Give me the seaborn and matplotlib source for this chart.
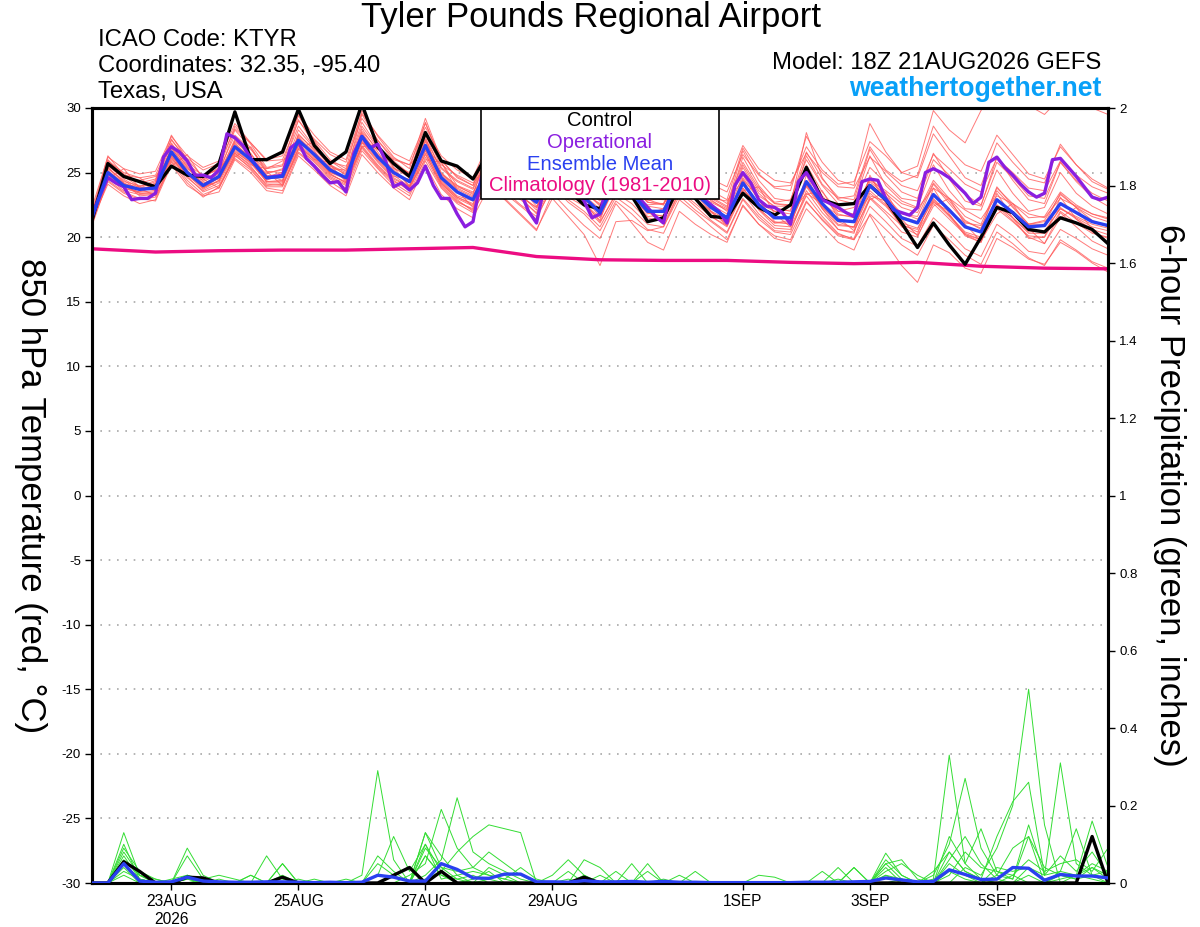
import numpy as np
import pandas as pd
import matplotlib
matplotlib.use("Agg")
import matplotlib.pyplot as plt
from matplotlib.patches import Rectangle
import seaborn as sns

# forecast hours from 21AUG2026 18Z, 6-hourly (GEFS) and 3-hourly (operational)
hours = np.arange(65) * 6
hours_op = np.arange(129) * 3
hours_clim = np.arange(17) * 24

control_temp = [
    21.3, 25.7, 24.7, 24.3, 23.9, 25.5, 24.8, 24.7, 25.7, 29.7, 26.0, 26.0, 26.6,
    29.9, 27.1, 25.7, 26.6, 30.3, 27.0, 25.7, 24.7, 28.1, 25.9, 25.5, 24.5, 26.6,
    24.5, 23.6, 23.3, 25.0, 23.6, 22.5, 22.2, 24.5, 23.2, 21.2, 21.5, 24.0, 23.0,
    21.6, 21.5, 23.4, 22.3, 21.7, 22.5, 25.4, 22.9, 22.5, 22.6, 24.0, 22.9, 21.1,
    19.2, 21.1, 19.4, 17.9, 20.0, 22.3, 21.9, 20.6, 20.4, 21.5, 21.1, 20.6, 19.5,
]

mean_temp = [
    21.5, 25.0, 24.0, 23.7, 23.8, 26.6, 25.0, 24.0, 24.7, 27.0, 26.0, 24.6, 24.7,
    27.5, 26.4, 25.2, 24.6, 27.8, 26.2, 25.0, 24.3, 27.1, 24.6, 23.5, 22.9, 25.5,
    24.5, 23.6, 22.7, 25.0, 23.8, 23.1, 21.9, 24.3, 23.4, 22.0, 22.0, 24.4, 23.4,
    22.3, 21.5, 24.2, 22.5, 21.5, 21.5, 24.3, 22.6, 21.3, 21.2, 24.0, 22.9, 21.5,
    21.1, 23.3, 22.1, 20.8, 20.4, 22.9, 21.9, 20.8, 20.9, 22.6, 21.9, 21.2, 20.9,
]

operational_temp = [
    21.7, 23.2, 24.6, 24.2, 23.9, 22.9, 23.0, 23.0, 23.4, 26.2, 27.0, 26.6, 25.9,
    24.8, 24.8, 24.6, 25.2, 28.0, 27.7, 27.1, 26.1, 25.3, 24.6, 24.7, 24.8, 26.9,
    27.4, 26.1, 25.5, 24.8, 24.2, 24.3, 23.5, 26.5, 27.8, 26.9, 27.2, 25.9, 23.9,
    24.2, 23.65, 24.2, 25.5, 24.0, 23.0, 23.0, 21.8, 20.8, 21.2, 24.5, 26.0, 25.5,
    24.8, 24.0, 23.5, 22.0, 21.1, 24.0, 25.5, 25.0, 24.5, 23.8, 22.8, 21.5, 21.8,
    24.5, 25.2, 24.5, 23.8, 23.0, 22.3, 21.6, 21.1, 23.8, 24.8, 24.3, 23.8, 23.0,
    22.5, 22.0, 21.1, 24.0, 25.0, 24.2, 22.9, 22.4, 22.3, 21.9, 21.0, 24.3, 25.0,
    24.0, 22.9, 22.6, 22.3, 21.9, 21.6, 24.3, 24.5, 24.4, 23.0, 22.1, 21.9, 21.7,
    22.3, 25.0, 25.3, 25.0, 24.6, 24.0, 23.4, 22.6, 23.1, 25.8, 26.2, 25.4, 24.8,
    24.1, 23.5, 23.1, 23.4, 26.0, 26.1, 25.4, 24.7, 23.9, 23.1, 22.9, 23.1,
]

climatology_temp = [19.1, 18.85, 18.95, 19.0, 19.0, 19.1, 19.2, 18.5, 18.25,
                    18.2, 18.2, 18.05, 17.95, 18.05, 17.75, 17.6, 17.55]

member_temp = [
    [21.0, 25.8, 24.9, 24.2, 24.5, 27.3, 25.6, 24.8, 25.2, 27.9, 26.8, 25.3, 25.5,
     28.6, 27.0, 25.9, 25.1, 28.9, 27.0, 25.6, 25.0, 28.2, 25.4, 24.4, 23.8, 26.6,
     25.3, 24.2, 23.4, 26.0, 24.6, 23.7, 22.8, 25.5, 24.1, 22.9, 22.5, 25.3, 24.0,
     22.9, 22.0, 25.4, 23.4, 22.3, 22.0, 25.6, 23.5, 22.0, 21.8, 24.6, 23.4, 22.3,
     21.9, 24.4, 23.0, 21.6, 21.0, 23.8, 22.6, 21.5, 21.6, 23.5, 22.5, 21.8, 21.4],
    [21.2, 24.3, 23.4, 22.9, 23.1, 25.8, 24.2, 23.1, 23.9, 26.1, 25.2, 23.8, 23.6,
     26.5, 25.5, 24.3, 23.5, 26.7, 25.3, 24.0, 23.2, 25.9, 23.8, 22.6, 21.9, 24.3,
     23.6, 22.5, 21.6, 23.8, 22.9, 22.0, 20.8, 23.1, 22.2, 21.0, 20.8, 23.2, 22.1,
     21.2, 20.3, 22.9, 21.4, 20.4, 20.2, 22.8, 21.3, 20.1, 19.8, 22.4, 21.2, 19.9,
     19.3, 21.5, 20.4, 19.1, 18.5, 21.0, 20.1, 18.9, 18.7, 20.6, 19.9, 19.1, 18.6],
    [21.8, 25.4, 24.3, 24.0, 24.1, 26.9, 25.3, 24.5, 25.0, 27.4, 26.4, 25.1, 25.0,
     27.9, 26.8, 25.6, 25.0, 28.2, 26.8, 25.7, 24.9, 27.6, 25.3, 24.3, 23.7, 26.3,
     25.4, 24.6, 23.8, 26.2, 25.1, 24.2, 23.3, 25.8, 24.9, 23.6, 23.4, 26.0, 25.0,
     24.1, 23.5, 26.4, 24.8, 23.9, 24.0, 27.0, 25.2, 24.1, 24.3, 27.4, 26.3, 25.0,
     25.5, 29.8, 28.3, 27.3, 29.8, 31.5, 31.0, 30.2, 29.5, 30.8, 30.4, 30.0, 29.5],
    [21.4, 25.6, 24.5, 23.8, 24.3, 27.6, 25.8, 24.3, 24.9, 28.3, 26.9, 25.0, 25.2,
     29.1, 27.2, 25.6, 24.8, 29.5, 27.5, 25.9, 24.9, 28.9, 25.8, 24.0, 23.3, 26.8,
     25.2, 24.0, 23.1, 26.5, 24.6, 23.6, 22.4, 25.4, 23.9, 22.7, 22.6, 25.6, 24.1,
     22.8, 22.2, 26.2, 24.0, 22.6, 22.5, 28.1, 24.6, 22.9, 22.6, 26.3, 24.0, 22.8,
     22.3, 25.6, 23.6, 22.2, 22.1, 25.2, 23.4, 22.0, 22.3, 25.0, 23.4, 22.4, 21.8],
    [21.0, 24.6, 23.6, 23.3, 23.4, 26.2, 24.6, 23.6, 24.2, 26.5, 25.5, 24.0, 24.1,
     26.9, 25.8, 24.6, 24.0, 27.1, 25.6, 24.4, 23.6, 26.5, 24.0, 22.8, 22.1, 24.8,
     23.7, 22.9, 21.9, 24.5, 23.1, 22.4, 21.1, 23.4, 22.6, 21.3, 21.3, 23.6, 22.6,
     21.6, 20.8, 23.4, 21.8, 20.7, 20.6, 23.2, 21.6, 20.3, 19.8, 21.7, 19.6, 17.8,
     16.5, 19.4, 18.8, 17.6, 17.2, 19.9, 19.2, 18.3, 17.9, 19.6, 18.9, 18.0, 17.3],
    [21.6, 25.2, 24.1, 23.9, 23.6, 26.4, 25.1, 24.2, 24.5, 26.8, 25.8, 24.4, 24.9,
     27.2, 26.2, 25.0, 24.7, 27.5, 26.0, 24.7, 24.5, 27.0, 24.4, 23.2, 22.8, 25.8,
     24.3, 23.4, 22.9, 25.3, 23.6, 22.9, 22.0, 24.0, 23.1, 21.8, 22.2, 24.8, 23.3,
     22.0, 21.4, 24.6, 22.9, 21.2, 21.0, 24.0, 22.4, 21.0, 20.8, 24.3, 23.2, 21.8,
     21.6, 24.2, 22.8, 21.3, 20.6, 23.9, 22.4, 21.0, 21.3, 23.3, 22.3, 21.6, 21.2],
    [21.3, 24.1, 23.2, 22.6, 22.9, 25.9, 24.4, 23.3, 23.8, 26.4, 25.3, 23.9, 23.9,
     26.8, 25.9, 24.7, 24.1, 27.0, 25.5, 24.3, 23.8, 26.4, 24.1, 23.0, 22.4, 25.0,
     24.0, 23.1, 22.3, 24.8, 23.9, 23.2, 22.2, 25.2, 24.2, 23.0, 22.9, 25.5, 24.6,
     23.4, 22.6, 25.8, 23.8, 22.7, 22.9, 26.0, 24.0, 22.6, 22.6, 25.4, 24.2, 23.0,
     22.8, 26.0, 24.8, 23.3, 22.5, 25.8, 24.6, 23.2, 23.0, 25.8, 24.4, 23.4, 22.8],
    [21.5, 24.9, 23.9, 23.5, 24.0, 26.9, 25.2, 23.8, 24.6, 27.2, 26.2, 24.8, 24.4,
     27.7, 26.6, 25.4, 24.4, 28.0, 26.4, 25.2, 24.0, 27.4, 24.9, 23.8, 23.2, 25.4,
     24.8, 23.8, 22.4, 24.6, 23.4, 23.0, 21.6, 24.1, 23.2, 21.9, 21.6, 24.1, 23.0,
     22.0, 21.0, 23.8, 22.2, 21.1, 21.3, 24.1, 22.3, 21.2, 20.7, 23.4, 22.4, 21.0,
     20.4, 22.6, 21.4, 20.2, 19.8, 22.2, 21.2, 20.1, 20.0, 22.0, 21.1, 20.3, 20.0],
    [21.9, 26.3, 24.8, 24.6, 23.7, 26.1, 24.8, 24.6, 25.4, 26.5, 25.6, 25.3, 25.9,
     27.0, 26.0, 25.8, 25.5, 27.3, 26.8, 26.0, 25.6, 26.9, 25.6, 24.8, 24.2, 25.6,
     24.9, 24.3, 23.5, 24.7, 24.2, 23.8, 23.0, 24.0, 23.7, 22.8, 23.1, 24.2, 23.6,
     23.0, 22.8, 24.4, 23.2, 22.4, 22.4, 24.0, 23.0, 22.0, 22.3, 24.4, 23.6, 22.6,
     22.2, 23.8, 23.0, 22.1, 21.4, 23.2, 22.6, 21.8, 21.5, 23.0, 22.4, 21.8, 21.5],
    [21.1, 25.1, 24.2, 23.2, 23.3, 27.0, 25.5, 23.9, 24.3, 27.5, 26.3, 24.2, 24.2,
     28.0, 26.7, 24.9, 24.2, 28.4, 26.6, 24.8, 23.9, 27.8, 24.3, 23.1, 22.5, 25.9,
     24.6, 23.3, 22.1, 25.6, 23.5, 22.6, 21.3, 24.6, 23.0, 21.5, 21.2, 24.7, 22.9,
     21.6, 20.9, 24.5, 22.1, 20.9, 20.8, 24.8, 22.2, 20.6, 20.3, 24.8, 22.6, 20.8,
     20.2, 23.8, 21.8, 20.1, 19.6, 23.4, 21.5, 19.9, 20.0, 23.1, 21.4, 20.4, 19.9],
    [21.7, 25.5, 24.6, 24.4, 24.7, 26.3, 24.9, 24.4, 25.1, 26.9, 26.1, 24.9, 25.3,
     27.4, 26.5, 25.3, 25.2, 27.6, 26.3, 25.3, 24.8, 26.8, 24.9, 24.0, 23.5, 25.1,
     24.4, 23.9, 23.2, 24.4, 23.7, 23.4, 22.6, 23.8, 23.1, 22.5, 22.6, 23.9, 23.3,
     22.7, 22.1, 23.6, 22.6, 22.0, 21.8, 23.4, 22.6, 21.7, 21.6, 23.2, 22.8, 21.9,
     21.4, 22.7, 22.0, 21.1, 20.9, 22.4, 21.8, 21.0, 21.2, 22.2, 21.6, 21.0, 20.7],
    [21.2, 25.3, 24.4, 23.6, 24.2, 27.2, 25.4, 24.1, 24.8, 27.6, 26.5, 24.7, 25.0,
     28.3, 26.9, 25.5, 24.9, 28.6, 26.9, 25.4, 24.6, 28.0, 25.0, 23.9, 23.4, 26.4,
     25.0, 24.1, 23.0, 26.3, 24.8, 23.9, 22.9, 26.1, 24.5, 23.3, 23.0, 26.4, 24.9,
     23.6, 22.9, 26.9, 24.9, 23.8, 23.6, 27.8, 25.8, 24.4, 24.0, 28.8, 26.6, 25.0,
     24.6, 28.0, 26.3, 24.6, 24.0, 27.3, 25.8, 24.5, 24.2, 27.2, 25.6, 24.5, 23.8],
    [21.4, 24.8, 23.8, 23.4, 23.3, 26.0, 24.7, 23.5, 24.0, 26.3, 25.4, 24.1, 24.0,
     26.6, 25.6, 24.5, 23.8, 26.9, 25.4, 24.2, 23.4, 26.2, 23.9, 22.7, 22.2, 24.6,
     23.4, 22.4, 21.4, 24.0, 22.7, 21.8, 20.5, 22.8, 21.8, 20.6, 20.3, 22.9, 21.9,
     20.8, 19.8, 22.4, 21.0, 19.9, 19.6, 22.2, 20.9, 19.6, 19.0, 21.8, 20.6, 19.4,
     18.6, 20.9, 19.8, 18.6, 17.9, 20.4, 19.5, 18.4, 17.8, 19.8, 19.0, 18.1, 17.6],
    [21.6, 26.0, 24.7, 23.9, 24.4, 27.9, 26.0, 24.7, 25.3, 28.6, 27.2, 25.4, 25.6,
     29.4, 27.5, 26.0, 25.3, 29.8, 27.8, 26.2, 25.3, 29.2, 26.0, 24.6, 24.0, 27.2,
     25.8, 24.6, 23.6, 27.0, 25.2, 24.2, 23.0, 25.9, 24.4, 23.2, 22.9, 25.9, 24.4,
     23.1, 22.4, 26.7, 24.4, 23.0, 22.8, 26.6, 24.5, 23.1, 22.9, 26.8, 24.8, 23.5,
     23.0, 26.5, 24.5, 22.8, 22.4, 26.2, 24.4, 22.9, 22.6, 25.8, 24.3, 23.1, 22.4],
    [21.3, 25.0, 24.0, 23.4, 23.5, 26.5, 24.9, 23.7, 24.4, 26.7, 25.7, 24.3, 24.3,
     27.1, 26.0, 24.8, 24.3, 27.3, 25.8, 24.5, 23.9, 26.7, 24.2, 22.9, 22.0, 24.2,
     23.0, 21.8, 20.6, 23.0, 21.6, 20.2, 17.8, 21.2, 21.3, 20.5, 20.8, 23.5, 22.4,
     21.3, 20.4, 23.0, 21.6, 20.5, 20.4, 23.6, 21.9, 20.6, 20.4, 23.1, 22.0, 20.9,
     20.6, 23.0, 21.7, 20.3, 19.8, 22.5, 21.5, 20.3, 20.3, 22.3, 21.4, 20.6, 20.2],
    [21.5, 24.5, 25.3, 23.8, 23.2, 25.5, 26.4, 24.5, 23.8, 26.2, 27.0, 25.1, 24.0,
     26.8, 27.4, 25.6, 24.3, 27.0, 27.2, 25.4, 23.9, 26.0, 25.8, 23.6, 22.3, 24.6,
     25.0, 23.1, 21.8, 24.0, 24.6, 22.7, 21.2, 23.3, 24.2, 22.0, 21.0, 23.5, 24.0,
     22.0, 20.9, 23.6, 23.9, 21.8, 20.8, 23.3, 23.6, 21.5, 20.5, 22.9, 23.5, 21.4,
     20.1, 22.4, 23.0, 21.0, 19.7, 21.8, 22.6, 20.7, 19.5, 21.5, 22.3, 20.6, 19.4],
    [21.9, 25.9, 25.0, 24.6, 24.8, 27.5, 26.1, 25.2, 25.7, 28.4, 27.3, 25.9, 26.0,
     29.0, 27.6, 26.4, 25.8, 29.2, 27.5, 26.1, 25.6, 28.5, 26.3, 25.2, 24.6, 27.4,
     26.2, 25.2, 24.4, 27.2, 25.7, 24.8, 23.9, 26.8, 25.4, 24.3, 24.1, 26.9, 25.6,
     24.5, 23.9, 27.1, 25.3, 24.4, 24.2, 26.5, 25.0, 23.9, 23.8, 26.2, 25.1, 24.0,
     23.6, 26.4, 25.3, 24.1, 23.5, 26.1, 25.0, 23.8, 23.6, 25.9, 24.8, 23.9, 23.4],
    [20.9, 24.4, 23.5, 23.0, 22.8, 25.6, 24.0, 23.2, 23.5, 26.0, 25.0, 23.6, 23.4,
     26.3, 25.2, 24.0, 23.2, 26.4, 25.0, 23.8, 22.9, 25.6, 23.3, 22.2, 21.5, 23.9,
     22.9, 21.7, 20.5, 23.4, 22.1, 20.9, 19.9, 22.6, 21.1, 19.6, 19.0, 22.0, 21.0,
     20.2, 19.6, 22.5, 21.0, 20.1, 19.8, 22.7, 21.4, 20.2, 19.9, 23.0, 21.8, 20.4,
     20.0, 22.8, 21.6, 20.2, 19.6, 22.4, 21.3, 20.0, 19.5, 21.9, 20.8, 19.7, 19.1],
    [21.6, 25.4, 24.2, 23.7, 24.0, 26.7, 25.0, 23.9, 24.6, 27.3, 26.0, 24.5, 24.8,
     27.8, 26.3, 25.0, 24.5, 28.1, 26.4, 25.0, 24.4, 27.5, 24.8, 23.7, 23.1, 25.8,
     24.7, 23.7, 22.9, 25.4, 24.0, 23.0, 22.1, 24.6, 23.6, 22.4, 22.2, 24.8, 23.6,
     22.5, 21.8, 24.8, 23.0, 22.0, 22.1, 26.3, 24.1, 23.0, 23.2, 27.0, 25.2, 24.3,
     24.8, 28.6, 26.8, 25.6, 25.1, 27.9, 26.4, 24.9, 24.5, 27.0, 25.6, 24.3, 23.7],
    [21.2, 24.7, 23.8, 23.5, 23.6, 26.3, 24.8, 23.8, 24.4, 26.6, 25.8, 24.3, 24.4,
     27.1, 26.1, 24.9, 24.2, 27.4, 25.9, 24.6, 23.9, 26.7, 24.2, 23.1, 22.6, 25.0,
     24.0, 23.2, 22.3, 24.6, 23.4, 22.6, 21.5, 24.0, 23.0, 21.6, 21.7, 24.0, 23.0,
     21.9, 21.1, 23.8, 22.2, 21.1, 21.1, 23.9, 22.2, 20.9, 20.8, 23.6, 22.5, 21.1,
     20.7, 22.9, 21.7, 20.4, 20.0, 22.5, 21.5, 20.4, 20.5, 22.2, 21.5, 20.8, 20.5],
    [22.3, 26.2, 25.3, 24.9, 25.1, 27.8, 26.3, 25.4, 25.9, 28.8, 27.3, 26.0, 26.3,
     29.5, 27.9, 26.6, 26.0, 29.6, 27.9, 26.5, 25.9, 28.8, 25.9, 24.7, 24.0, 26.9,
     25.6, 24.4, 23.5, 26.1, 24.8, 23.5, 22.5, 25.2, 24.0, 22.7, 22.5, 25.5, 24.2,
     23.0, 22.3, 25.6, 23.6, 22.6, 22.4, 25.4, 23.2, 21.8, 21.5, 24.6, 23.1, 21.6,
     21.2, 24.1, 22.6, 21.2, 20.7, 23.6, 22.3, 21.0, 21.0, 23.4, 22.3, 21.3, 20.8],
]

control_precip = [
    0, 0, 0.055, 0.03, 0, 0, 0.015, 0.013, 0, 0, 0, 0, 0.015,
    0, 0, 0, 0, 0, 0, 0.02, 0.04, 0, 0.03, 0, 0, 0,
    0, 0, 0, 0, 0, 0.015, 0, 0, 0, 0, 0, 0, 0,
    0, 0, 0, 0, 0, 0, 0, 0, 0, 0, 0, 0, 0,
    0, 0, 0, 0, 0, 0, 0, 0, 0, 0, 0, 0.12, 0,
]

mean_precip = [
    0, 0, 0.05, 0.005, 0.002, 0.003, 0.015, 0.005, 0.003, 0.002, 0.002, 0.003, 0.003,
    0.002, 0.001, 0.002, 0.001, 0.002, 0.02, 0.015, 0.005, 0.005, 0.05, 0.035, 0.013, 0.012,
    0.023, 0.023, 0.003, 0.003, 0.002, 0.006, 0.003, 0.003, 0.004, 0.002, 0.004, 0.002, 0.002,
    0.001, 0.001, 0.001, 0.001, 0.001, 0.001, 0.002, 0.002, 0.002, 0.003, 0.004, 0.013, 0.008,
    0.003, 0.004, 0.034, 0.022, 0.009, 0.01, 0.04, 0.038, 0.007, 0.022, 0.018, 0.018, 0.013,
]

member_precip = [
    [0, 0, 0.13, 0.02, 0, 0, 0.01, 0, 0, 0, 0, 0, 0,
     0, 0, 0, 0, 0.02, 0.29, 0.06, 0, 0.01, 0.03, 0, 0, 0,
     0, 0, 0, 0, 0.01, 0, 0, 0, 0, 0, 0, 0, 0,
     0, 0, 0, 0, 0, 0, 0, 0, 0, 0, 0, 0, 0.01, 0,
     0, 0, 0.04, 0.02, 0.09, 0.20, 0.50, 0.15, 0, 0.02, 0.04, 0.01, 0],
    [0, 0, 0.10, 0.01, 0, 0, 0.07, 0.01, 0, 0, 0, 0.07, 0.01,
     0, 0, 0, 0, 0, 0.05, 0.02, 0, 0.13, 0.04, 0.01, 0.02, 0,
     0, 0, 0, 0, 0, 0.02, 0, 0, 0.05, 0, 0.01, 0, 0,
     0, 0, 0, 0, 0, 0, 0, 0, 0.01, 0, 0, 0.06, 0.02,
     0, 0.01, 0.33, 0.05, 0.01, 0, 0.02, 0, 0, 0.03, 0.14, 0.02, 0.01],
    [0, 0, 0.09, 0.03, 0.01, 0, 0.09, 0.02, 0, 0, 0, 0, 0.05,
     0, 0, 0, 0, 0, 0, 0, 0.02, 0.05, 0.19, 0.09, 0.04, 0.02,
     0.01, 0, 0, 0, 0, 0, 0.02, 0, 0, 0, 0, 0, 0,
     0, 0, 0, 0, 0, 0, 0, 0, 0.04, 0, 0, 0.02, 0.01,
     0, 0.02, 0.10, 0.27, 0.09, 0.02, 0.01, 0.12, 0.04, 0.02, 0.02, 0.05, 0.03],
    [0, 0, 0.08, 0.02, 0, 0, 0.02, 0, 0, 0, 0, 0, 0,
     0, 0, 0, 0, 0, 0.07, 0.03, 0, 0.02, 0.06, 0.22, 0.08, 0.05,
     0.03, 0.01, 0, 0, 0, 0, 0, 0, 0, 0, 0, 0, 0,
     0, 0, 0, 0, 0, 0, 0, 0, 0, 0, 0, 0.03, 0.05,
     0.02, 0, 0.06, 0.12, 0.05, 0.01, 0, 0.04, 0.02, 0.31, 0.05, 0.02, 0],
    [0, 0, 0.07, 0.01, 0, 0, 0, 0.01, 0, 0, 0, 0, 0.02,
     0, 0, 0, 0, 0, 0, 0, 0, 0.10, 0.03, 0.08, 0.12, 0.15,
     0.14, 0.13, 0, 0, 0, 0, 0, 0.03, 0, 0.03, 0, 0, 0,
     0, 0, 0, 0, 0, 0, 0, 0, 0, 0.04, 0, 0, 0,
     0, 0.03, 0.08, 0.03, 0.01, 0.12, 0.21, 0.26, 0.02, 0.03, 0.02, 0.16, 0.04],
    [0, 0, 0.06, 0.02, 0.01, 0, 0.01, 0.01, 0.02, 0.01, 0, 0, 0,
     0, 0, 0, 0, 0, 0, 0, 0, 0.13, 0.07, 0.02, 0.03, 0.02,
     0.01, 0.04, 0.01, 0, 0, 0.06, 0.04, 0, 0, 0.05, 0, 0.02, 0,
     0, 0, 0, 0.02, 0.015, 0, 0, 0, 0, 0, 0, 0.077, 0.02,
     0, 0, 0.12, 0.05, 0.14, 0.03, 0.01, 0.15, 0.02, 0.07, 0.03, 0.08, 0.02],
    [0, 0, 0.05, 0.01, 0, 0.01, 0.02, 0.01, 0, 0, 0.02, 0, 0,
     0, 0, 0, 0, 0, 0.02, 0.12, 0.03, 0.10, 0.01, 0.02, 0, 0.01,
     0, 0, 0, 0.02, 0.06, 0.02, 0, 0, 0, 0, 0, 0, 0.03,
     0, 0, 0, 0, 0, 0, 0, 0.03, 0, 0.04, 0, 0.05, 0.06,
     0.01, 0, 0.02, 0.08, 0.04, 0.03, 0.02, 0.06, 0.03, 0.05, 0.06, 0.03, 0.09],
    [0, 0, 0.04, 0, 0, 0, 0.02, 0, 0, 0, 0, 0, 0,
     0, 0, 0, 0.01, 0, 0, 0, 0, 0.07, 0.02, 0.01, 0, 0.04,
     0.02, 0, 0, 0, 0.03, 0, 0, 0, 0, 0, 0, 0, 0,
     0, 0, 0, 0, 0, 0, 0, 0, 0, 0, 0, 0.05, 0.01,
     0, 0, 0.08, 0.03, 0.01, 0, 0, 0.02, 0, 0.02, 0.01, 0.02, 0.03],
    [0, 0, 0.03, 0.01, 0, 0, 0.01, 0, 0, 0, 0, 0, 0,
     0.01, 0, 0, 0, 0, 0, 0, 0, 0.09, 0.04, 0.03, 0.04, 0.08,
     0.05, 0.02, 0, 0, 0, 0, 0, 0, 0, 0, 0, 0, 0,
     0, 0, 0, 0, 0, 0, 0, 0, 0, 0, 0, 0.04, 0,
     0, 0, 0.05, 0.02, 0, 0.02, 0.09, 0.12, 0, 0.01, 0.02, 0.01, 0],
    [0, 0, 0.02, 0, 0, 0, 0, 0, 0.01, 0, 0.02, 0, 0.05,
     0, 0.01, 0, 0, 0, 0, 0, 0, 0.07, 0.02, 0, 0.01, 0.03,
     0, 0, 0, 0, 0, 0, 0, 0, 0, 0, 0, 0, 0,
     0, 0, 0, 0, 0, 0, 0, 0, 0, 0, 0, 0.02, 0,
     0, 0, 0.03, 0.01, 0, 0.04, 0.03, 0.04, 0.01, 0.02, 0.01, 0.04, 0.02],
]

xtick_hours = [30, 78, 126, 174, 246, 294, 342]
xtick_labels = ["23AUG\n2026", "25AUG", "27AUG", "29AUG", "1SEP", "3SEP", "5SEP"]
ytick_left = [30, 25, 20, 15, 10, 5, 0, -5, -10, -15, -20, -25, -30]
ytick_right = [0, 0.2, 0.4, 0.6, 0.8, 1, 1.2, 1.4, 1.6, 1.8, 2]
ytick_right_labels = ["0", "0.2", "0.4", "0.6", "0.8", "1", "1.2", "1.4", "1.6", "1.8", "2"]

RED = "#ff5a5a"
GREEN = "#33dd33"
PURPLE = "#8a1ee0"
BLUE = "#2a40f0"
PINK = "#ec0c82"


def long_frame(members, value):
    rows = []
    for m, vals in enumerate(members):
        for h, v in zip(hours, vals):
            rows.append((m, h, v))
    return pd.DataFrame(rows, columns=["member", "hour", value])


sns.set_theme(style="white")
plt.rcParams["font.family"] = ["Liberation Sans", "DejaVu Sans"]
plt.rcParams["text.color"] = "black"
plt.rcParams["axes.labelcolor"] = "black"
plt.rcParams["xtick.color"] = "black"
plt.rcParams["ytick.color"] = "black"

fig = plt.figure(figsize=(12, 9.27), dpi=100)
ax = fig.add_axes([92 / 1200, 1 - 883 / 927, 1016 / 1200, 775 / 927])
ax2 = ax.twinx()

temp_df = long_frame(member_temp, "temp")
sns.lineplot(data=temp_df, x="hour", y="temp", units="member", estimator=None,
             color=RED, lw=0.7, alpha=0.8, ax=ax, legend=False, zorder=1)
sns.lineplot(x=hours_clim, y=climatology_temp, color=PINK, lw=2.4, ax=ax, zorder=2)
sns.lineplot(x=hours, y=control_temp, color="black", lw=2.4, ax=ax, zorder=3)
sns.lineplot(x=hours_op, y=operational_temp, color=PURPLE, lw=2.4, ax=ax, zorder=4)
sns.lineplot(x=hours, y=mean_temp, color=BLUE, lw=2.4, ax=ax, zorder=5)

precip_df = long_frame(member_precip, "precip")
sns.lineplot(data=precip_df, x="hour", y="precip", units="member", estimator=None,
             color=GREEN, lw=0.7, ax=ax2, legend=False, zorder=1)
sns.lineplot(x=hours, y=control_precip, color="black", lw=2.4, ax=ax2, zorder=3)
sns.lineplot(x=hours, y=mean_precip, color=BLUE, lw=2.4, ax=ax2, zorder=4)

ax.set_xlim(0, 384)
ax.set_ylim(-30, 30)
ax2.set_ylim(0, 2)

ax.set_xticks(xtick_hours)
ax.set_xticklabels(xtick_labels, fontsize=11.2)
ax.set_yticks(ytick_left)
ax.set_yticklabels([str(v) for v in ytick_left], fontsize=9.5)
ax2.set_yticks(ytick_right)
ax2.set_yticklabels(ytick_right_labels, fontsize=9.5)

ax.tick_params(axis="both", direction="out", length=5, width=1, color="black",
               left=True, bottom=True, pad=3)
ax2.tick_params(axis="y", direction="out", length=5, width=1, color="black",
                right=True, pad=3)

ax.yaxis.grid(True, linestyle=(0, (1, 4)), color="#a8a8a8", lw=1.2)
ax.xaxis.grid(False)
ax2.grid(False)

for a in (ax, ax2):
    for s in a.spines.values():
        s.set_color("black")
        s.set_linewidth(2.2)

ax.set_xlabel("")
ax.set_ylabel("850 hPa Temperature (red, °C)", rotation=-90, fontsize=25,
              va="center", ha="center")
ax.yaxis.set_label_coords(-0.061, 0.5)
ax2.set_ylabel("6-hour Precipitation (green, inches)", rotation=-90, fontsize=25,
               va="center", ha="center")
ax2.yaxis.set_label_coords(1.061, 0.5)

# legend box at the top of the plot
ax.add_patch(Rectangle((0.383, 0.8826), 0.2343, 0.1174, transform=ax.transAxes,
                       facecolor="white", edgecolor="black", lw=1.2, zorder=10))
legend_items = [("Control", "black"), ("Operational", PURPLE),
                ("Ensemble Mean", BLUE), ("Climatology (1981-2010)", PINK)]
for (txt, col), yy in zip(legend_items, [0.9845, 0.9561, 0.9277, 0.9006]):
    ax.text(0.5, yy, txt, color=col, fontsize=14.6, ha="center", va="center",
            transform=ax.transAxes, zorder=11)

fig.text(0.4925, 1 - 18 / 927, "Tyler Pounds Regional Airport", fontsize=25,
         ha="center", va="center")
for txt, yy in [("ICAO Code: KTYR", 40), ("Coordinates: 32.35, -95.40", 66),
                ("Texas, USA", 92)]:
    fig.text(98 / 1200, 1 - yy / 927, txt, fontsize=17.2, ha="left", va="center")
fig.text(1101 / 1200, 1 - 63 / 927, "Model: 18Z 21AUG2026 GEFS", fontsize=17.2,
         ha="right", va="center")
fig.text(1101 / 1200, 1 - 89 / 927, "weathertogether.net", fontsize=19.2,
         fontweight="bold", color="#08a0f8", ha="right", va="center")

fig.savefig("out.png", dpi=100)
